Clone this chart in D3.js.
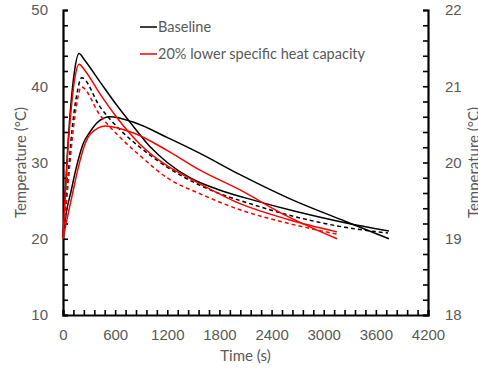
<!DOCTYPE html>
<html>
<head>
<meta charset="utf-8">
<script src="https://cdn.jsdelivr.net/npm/d3@7"></script>
<style>
  body { margin: 0; background: #fff; }
  svg { display: block; font-family: Lato, "Open Sans", sans-serif; }
  .axis text { fill: #595959; font-size: 15px; }
  .axis path, .axis line { stroke: #000; }
</style>
</head>
<body>
<script>
const WIDTH = 478;
const HEIGHT = 375;
const LEFT = 63, RIGHT = 428, TOP = 10, BOTTOM = 315;

// [time (s), temperature (oC)]
const baselineSharp = [[0,20],[25,26],[55,32],[90,37.5],[130,41.8],[185,44.3],[250,43.4],[430,40.5],[600,37.8],[770,35.3],[1000,32.1],[1200,30.0],[1460,28.0],[1800,26.4],[2210,25.0],[2670,23.6],[3245,22.1],[3750,21.0]];
const baselineBroad = [[0,20],[35,23.2],[92,26.2],[150,29.2],[230,32.4],[310,34.0],[400,35.3],[540,36.0],[806,35.3],[1197,33.3],[1577,31.2],[2037,28.4],[2600,25.3],[3245,22.3],[3751,20.0]];
const baselineDashed = [[0,20],[46,26.4],[104,34.3],[160,39.0],[215,41.1],[426,37.3],[656,34.3],[886,32.0],[1197,29.4],[1577,27.0],[2209,24.4],[3245,21.5],[3740,20.75]];
const lowerSharp = [[0,20],[25,25.5],[55,31.5],[90,36.5],[130,40.6],[185,42.9],[250,42.1],[426,39.0],[600,36.2],[740,34.2],[886,32.4],[1197,29.6],[1347,28.6],[1577,27.2],[2037,24.6],[2600,22.5],[3153,20.9]];
const lowerBroad = [[0,20],[58,23.2],[115,26.2],[173,29.2],[253,32.4],[322,33.8],[490,34.8],[806,33.9],[1197,31.6],[1577,29.0],[2037,26.4],[2555,23.1],[3153,20.0]];
const lowerDashed = [[0,20],[50,26.0],[110,33.5],[160,37.8],[210,39.9],[426,36.2],[656,33.3],[886,30.9],[1197,28.0],[1577,25.9],[2037,23.8],[2600,22.0],[3153,20.6]];

const legendLabels = ["Baseline", "20% lower specific heat capacity"];
const legendColors = ["#000000", "#ff0000"];

const xTicks = d3.range(0, 4201, 120);
const yTicks = d3.range(10, 51, 2);
const y2Ticks = d3.range(0, 21).map(i => 18 + i * 0.2);

const svg = d3.select("body").append("svg")
  .attr("width", WIDTH)
  .attr("height", HEIGHT);

const x = d3.scaleLinear().domain([0, 4200]).range([LEFT, RIGHT]);
const y = d3.scaleLinear().domain([10, 50]).range([BOTTOM, TOP]);
const y2 = d3.scaleLinear().domain([18, 22]).range([BOTTOM, TOP]);

// axes, ticks pointing inside the plot
const xAxis = d3.axisBottom(x).tickValues(xTicks).tickSize(-5).tickPadding(14)
  .tickFormat(d => d % 600 === 0 ? d : "");
const yAxis = d3.axisLeft(y).tickValues(yTicks).tickSize(-5).tickPadding(15)
  .tickFormat(d => d % 10 === 0 ? d : "");
const y2Axis = d3.axisRight(y2).tickValues(y2Ticks).tickSize(-5).tickPadding(17)
  .tickFormat(d => Math.abs(d - Math.round(d)) < 1e-6 ? Math.round(d) : "");

svg.append("g").attr("class", "axis")
  .attr("transform", "translate(0," + BOTTOM + ")")
  .call(xAxis);
svg.append("g").attr("class", "axis")
  .attr("transform", "translate(" + LEFT + ",0)")
  .call(yAxis);
svg.append("g").attr("class", "axis")
  .attr("transform", "translate(" + RIGHT + ",0)")
  .call(y2Axis);

svg.selectAll(".axis path").attr("stroke-width", 2.2);
svg.selectAll(".axis line").attr("stroke-width", 1.6);

// axis titles
svg.append("text")
  .attr("transform", "translate(26," + ((TOP + BOTTOM) / 2) + ") rotate(-90)")
  .attr("text-anchor", "middle")
  .style("font-size", "15px").style("fill", "#595959")
  .text("Temperature (°C)");
svg.append("text")
  .attr("transform", "translate(479," + ((TOP + BOTTOM) / 2) + ") rotate(-90)")
  .attr("text-anchor", "middle")
  .style("font-size", "15px").style("fill", "#595959")
  .text("Temperature (°C)");
svg.append("text")
  .attr("x", (LEFT + RIGHT) / 2)
  .attr("y", 361)
  .attr("text-anchor", "middle")
  .style("font-size", "15px").style("fill", "#595959")
  .text("Time (s)");

// curves
const line = d3.line()
  .x(d => x(d[0]))
  .y(d => y(d[1]))
  .curve(d3.curveMonotoneX);

const series = [
  { data: baselineSharp, color: legendColors[0], dash: null },
  { data: baselineBroad, color: legendColors[0], dash: null },
  { data: baselineDashed, color: legendColors[0], dash: "4,3" },
  { data: lowerSharp, color: legendColors[1], dash: null },
  { data: lowerBroad, color: legendColors[1], dash: null },
  { data: lowerDashed, color: legendColors[1], dash: "4,3" }
];

svg.selectAll("path.curve")
  .data(series)
  .enter()
  .append("path")
    .attr("class", "curve")
    .attr("d", d => line(d.data))
    .attr("fill", "none")
    .attr("stroke", d => d.color)
    .attr("stroke-width", 1.5)
    .attr("stroke-dasharray", d => d.dash);

// legend
const legend = svg.selectAll("g.legend")
  .data(legendLabels)
  .enter()
  .append("g")
    .attr("class", "legend")
    .attr("transform", (d, i) => "translate(140," + (27 + i * 27) + ")");
legend.append("line")
  .attr("x1", 0).attr("x2", 17)
  .attr("stroke", (d, i) => legendColors[i])
  .attr("stroke-width", 1.5);
legend.append("text")
  .attr("x", 18)
  .attr("y", 5)
  .style("font-size", "14.5px").style("fill", "#595959")
  .text(d => d);
</script>
</body>
</html>
